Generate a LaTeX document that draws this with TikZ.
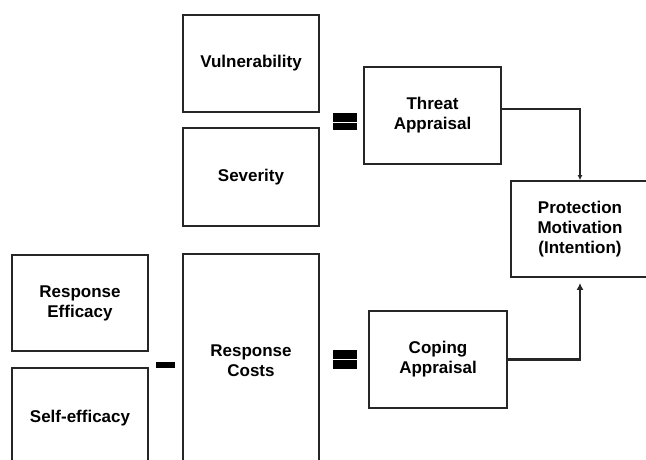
\documentclass[tikz,border=0pt]{standalone}
\usepackage{fontspec}
\setmainfont{Liberation Sans}
\usetikzlibrary{arrows.meta}
\tikzset{
    factor/.style = {draw = black!85, line width = 1.8pt, align = center, inner sep = 0pt,
        font = \fontsize{17}{20}\selectfont\bfseries},
    link/.style = {draw = black!85, -{Latex[length = #1, width = #1]}},
    link/.default = 5pt,
    sign/.style = {fill = black}
}
\begin{document}
\begin{tikzpicture}[x = 1pt, y = -1pt]
    \useasboundingbox (0,0) rectangle (646,459);
    \clip (0,0) rectangle (646,459);
    % threat side
    \node[factor, minimum width = 136pt, minimum height = 97pt] (vul) at (251,63.5) {Vulnerability};
    \node[factor, minimum width = 136pt, minimum height = 98pt] (sev) at (251,177) {Severity};
    \node[factor, minimum width = 137pt, minimum height = 97pt] (threat) at (432.5,115.5) {Threat\\Appraisal};
    % coping side
    \node[factor, minimum width = 136pt, minimum height = 96pt] (reff) at (80,303) {Response\\Efficacy};
    \node[factor, minimum width = 136pt, minimum height = 100pt] (seff) at (80,418) {Self-efficacy};
    \node[factor, minimum width = 136pt, minimum height = 214pt] (rcost) at (251,361) {Response\\Costs};
    \node[factor, minimum width = 138pt, minimum height = 97pt] (coping) at (438,359.5) {Coping\\Appraisal};
    % outcome
    \node[factor, minimum width = 138pt, minimum height = 96pt] (prot) at (580,229) {Protection\\Motivation\\(Intention)};
    % signs
    \begin{scope}[every path/.append style = {sign}]
        \path (333,113) rectangle (357,121.5);
        \path (333,122.5) rectangle (357,130);
        \path (333,350) rectangle (357,359);
        \path (333,360) rectangle (357,369);
        \path (156,362) rectangle (175,368);
    \end{scope}
    % connectors
    \draw[link = 5pt, line width = 1.6pt] ([yshift = 6.5pt]threat.east) -| (prot.north);
    \draw[link = 7pt, line width = 2.5pt] (coping.east) -| ([yshift = -5pt]prot.south);
\end{tikzpicture}
\end{document}
